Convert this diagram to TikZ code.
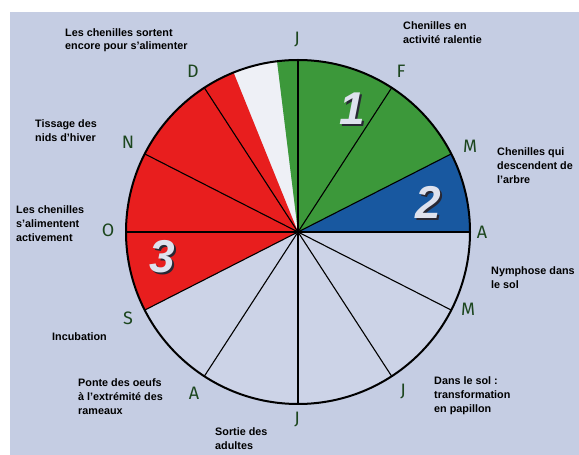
\documentclass[tikz,border=0pt]{standalone}
\usepackage{fontspec}
\setmainfont{Liberation Sans}
\newfontfamily\monthfont{Fira Sans}
\definecolor{bgc}{RGB}{197,205,227}
\definecolor{lowc}{RGB}{204,211,231}
\definecolor{whitec}{RGB}{238,240,246}
\definecolor{grn}{RGB}{60,152,58}
\definecolor{blu}{RGB}{24,88,160}
\definecolor{redc}{RGB}{232,30,30}
\definecolor{mgreen}{RGB}{28,70,30}
\definecolor{numc}{RGB}{222,226,238}
\definecolor{shad}{RGB}{40,40,52}
\newcommand{\shadnum}[1]{\rlap{\kern2pt\raisebox{-2pt}{\textcolor{shad}{#1}}}#1}
\begin{document}
\begin{tikzpicture}[x=1pt,y=1pt,
  lbl/.style={font=\bfseries\fontsize{10.8}{14}\selectfont, align=left, anchor=base west, inner sep=0pt},
  mon/.style={font=\monthfont\fontsize{18}{18}\selectfont, text=mgreen, inner sep=0pt},
  num/.style={font=\bfseries\itshape\fontsize{46}{46}\selectfont, inner sep=0pt, text=numc},
  spoke/.style={line width=1.1pt, black}]
\useasboundingbox (0,0) rectangle (579,455);
\fill[white] (0,0) rectangle (579,455);
\fill[bgc] (10,0) rectangle (579,443);
\coordinate (C) at (298,223);
\def\R{172}
% sectors
\fill[lowc] (C) circle[radius=\R];
\fill[whitec] (C) -- ++(97:\R) arc[start angle=97,end angle=112,radius=\R] -- cycle;
\fill[grn] (C) -- ++(97:\R) arc[start angle=97,end angle=27,radius=\R] -- cycle;
\fill[blu] (C) -- ++(27:\R) arc[start angle=27,end angle=0,radius=\R] -- cycle;
\fill[redc] (C) -- ++(112:\R) arc[start angle=112,end angle=207,radius=\R] -- cycle;
% spokes
\foreach \a in {90,57,27,0,-27,-57,-90,-123,-153,180,153,123}
  \draw[spoke] (C) -- ++(\a:\R);
\draw[line width=2pt] (C) circle[radius=\R];
% months
\node[mon] (mJ1) at (297,415) {J};
\node[mon] (mF) at (401,384) {F};
\node[mon] (mM1) at (470,309) {M};
\node[mon] (mA1) at (482,223) {A};
\node[mon] (mM2) at (468,146) {M};
\node[mon] (mJ2) at (403,63) {J};
\node[mon] (mJ3) at (297,35) {J};
\node[mon] (mA2) at (194,62) {A};
\node[mon] (mS) at (128,137) {S};
\node[mon] (mO) at (108,225) {O};
\node[mon] (mN) at (128,313) {N};
\node[mon] (mD) at (193,384) {D};
% numbers
\node[num] (n1) at (352,345) {\shadnum{1}};
\node[num] (n2) at (428,252) {\shadnum{2}};
\node[num] (n3) at (162,197) {\shadnum{3}};
% labels (anchored at the baseline of the last line)
\node[lbl, font=\bfseries\fontsize{10.8}{13.5}\selectfont] (t1) at (65,405) {Les chenilles sortent\\encore pour s'alimenter};
\node[lbl] (t2) at (403,411) {Chenilles en\\activité ralentie};
\node[lbl] (t3) at (35,313) {Tissage des\\nids d'hiver};
\node[lbl] (t4) at (497,271) {Chenilles qui\\descendent de\\l'arbre};
\node[lbl] (t5) at (16,213) {Les chenilles\\s'alimentent\\activement};
\node[lbl] (t6) at (491,166) {Nymphose dans\\le sol};
\node[lbl] (t7) at (52,114) {Incubation};
\node[lbl] (t8) at (78,40) {Ponte des oeufs\\à l'extrémité des\\rameaux};
\node[lbl] (t9) at (434,42) {Dans le sol :\\transformation\\en papillon};
\node[lbl] (t10) at (215,5) {Sortie des\\adultes};
\end{tikzpicture}
\end{document}
